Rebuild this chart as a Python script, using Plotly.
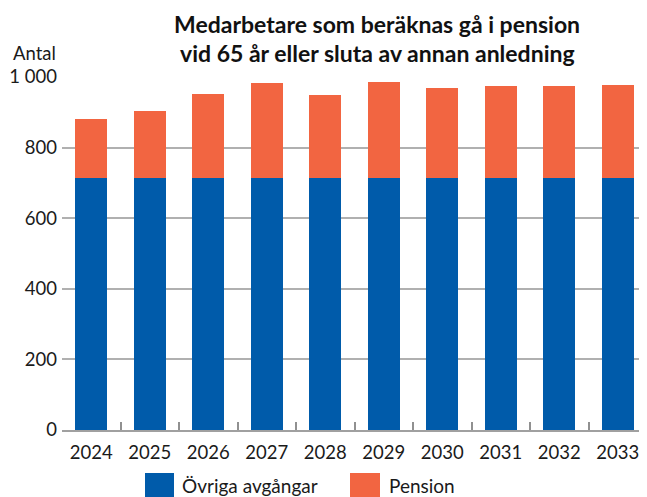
import plotly.graph_objects as go

years = ["2024", "2025", "2026", "2027", "2028", "2029", "2030", "2031", "2032", "2033"]
ovriga = [715, 715, 715, 715, 715, 715, 715, 715, 715, 715]
pension = [165, 190, 236, 267, 233, 270, 253, 259, 259, 261]
series_names = ["Övriga avgångar", "Pension"]
colors = ["#005BAA", "#F26541"]
y_tickvals = [0, 200, 400, 600, 800, 1000]
y_ticktext = ["0", "200", "400", "600", "800", "1 000"]

# page has an 8px body margin; design in screen pixels and offset
OFF = 8
W, H = 647 - OFF, 497 - OFF
ML, MR, MT = 62 - OFF, 0, 77 - OFF
MB = H - (430 - OFF)
PW, PH = W - ML - MR, H - MT - MB

def px_x(x):
    return (x - OFF - ML) / PW

def px_y(y):
    return (H - MB - (y - OFF)) / PH

fig = go.Figure()
fig.add_trace(go.Bar(x=years, y=ovriga, name=series_names[0], marker_color=colors[0],
                     marker_line_width=0, showlegend=False))
fig.add_trace(go.Bar(x=years, y=pension, name=series_names[1], marker_color=colors[1],
                     marker_line_width=0, showlegend=False))

font_family = "Lato, 'Open Sans', sans-serif"

fig.update_layout(
    width=W, height=H,
    margin=dict(l=ML, r=MR, t=MT, b=MB, autoexpand=False),
    barmode="stack", bargap=0.46,
    plot_bgcolor="white", paper_bgcolor="white",
    font=dict(family=font_family, size=17, color="#1a1a1a"),
    xaxis=dict(
        type="category", showgrid=False, showline=True, linecolor="#a0a0a0", linewidth=2,
        ticks="inside", tickson="boundaries", ticklen=8, tickwidth=1.5, tickcolor="#909090",
        tickfont=dict(size=18.5), ticklabelstandoff=5,
    ),
    yaxis=dict(
        range=[0, 1000], tickvals=y_tickvals, ticktext=y_ticktext,
        showgrid=True, gridcolor="#b0b0b0", gridwidth=1.5, zeroline=False,
        ticks="", tickfont=dict(size=18.5), ticklabelstandoff=4,
    ),
)

annotations = [
    dict(text="Medarbetare som beräknas gå i pension", x=px_x(377), y=px_y(24),
         font=dict(size=23, family="Lato", color="#111", weight="bold")),
    dict(text="vid 65 år eller sluta av annan anledning", x=px_x(377), y=px_y(53),
         font=dict(size=23, family="Lato", color="#111", weight="bold")),
    dict(text="Antal", x=px_x(58), y=px_y(53), xanchor="right",
         font=dict(size=18.5, family=font_family, color="#1a1a1a")),
    dict(text=series_names[0], x=px_x(180), y=px_y(485), xanchor="left",
         font=dict(size=19, family=font_family, color="#1a1a1a")),
    dict(text=series_names[1], x=px_x(387), y=px_y(485), xanchor="left",
         font=dict(size=19, family=font_family, color="#1a1a1a")),
]
for a in annotations:
    a.update(xref="paper", yref="paper", showarrow=False)
    a.setdefault("xanchor", "center")
    a["yanchor"] = "middle"
fig.update_layout(annotations=annotations)

fig.update_layout(shapes=[
    dict(type="rect", xref="paper", yref="paper", x0=px_x(145), x1=px_x(174),
         y0=px_y(473), y1=px_y(505), fillcolor=colors[0], line_width=0),
    dict(type="rect", xref="paper", yref="paper", x0=px_x(350), x1=px_x(380),
         y0=px_y(473), y1=px_y(505), fillcolor=colors[1], line_width=0),
])

fig.write_html("out.html")
